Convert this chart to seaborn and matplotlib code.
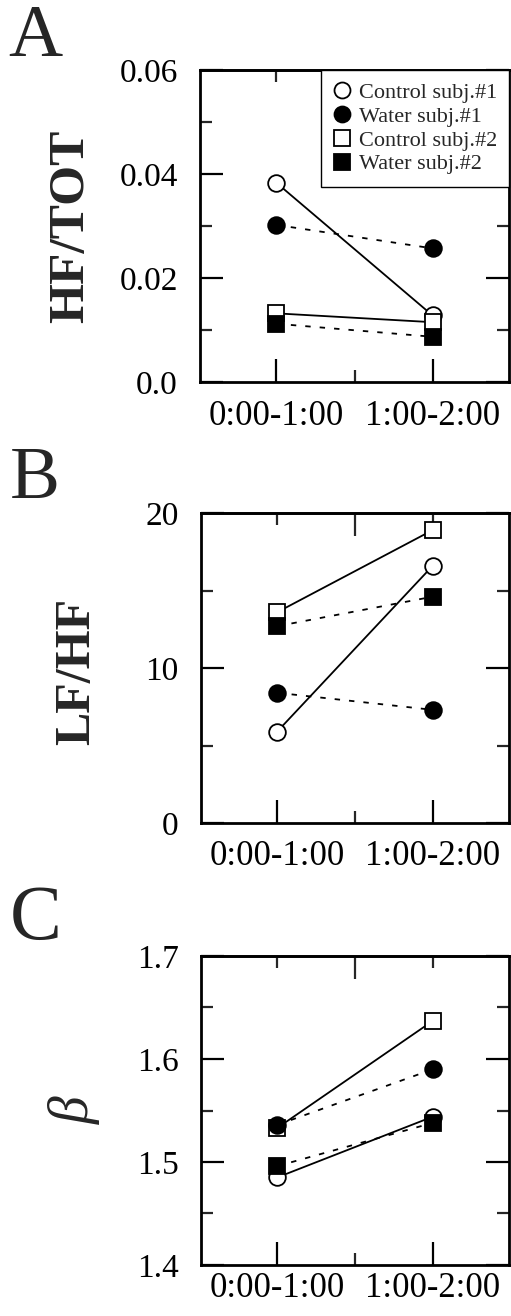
import numpy as np
import pandas as pd
import matplotlib
matplotlib.use("Agg")
import matplotlib.pyplot as plt
from matplotlib.lines import Line2D
from matplotlib.ticker import MultipleLocator, FixedLocator, NullFormatter
import seaborn as sns

# ---------------- data ----------------
periods = ["0:00-1:00", "1:00-2:00"]
series_names = ["Control subj.#1", "Water subj.#1", "Control subj.#2", "Water subj.#2"]

hf_tot_ctrl1 = [0.0383, 0.0128]
hf_tot_water1 = [0.0302, 0.0257]
hf_tot_ctrl2 = [0.0132, 0.0115]
hf_tot_water2 = [0.0112, 0.0087]

lfhf_ctrl1 = [5.9, 16.6]
lfhf_water1 = [8.4, 7.3]
lfhf_ctrl2 = [13.6, 18.9]
lfhf_water2 = [12.7, 14.6]

beta_ctrl1 = [1.485, 1.544]
beta_water1 = [1.536, 1.590]
beta_ctrl2 = [1.533, 1.637]
beta_water2 = [1.496, 1.538]

a_yticks = [0.0, 0.02, 0.04, 0.06]
a_yticklabels = ["0.0", "0.02", "0.04", "0.06"]
b_yticks = [0, 10, 20]
b_yticklabels = ["0", "10", "20"]
c_yticks = [1.4, 1.5, 1.6, 1.7]
c_yticklabels = ["1.4", "1.5", "1.6", "1.7"]

# ---------------- style ----------------
sns.set_theme(style="ticks")
plt.rcParams["font.family"] = ["Liberation Serif", "DejaVu Serif"]
plt.rcParams["axes.linewidth"] = 2.0

fig = plt.figure(figsize=(5.11, 13.16), dpi=100)
W, H = 511.0, 1316.0


def add_axes(left, top, right, bottom):
    return fig.add_axes([left / W, 1 - bottom / H, (right - left) / W, (bottom - top) / H])


axA = add_axes(200, 70, 509, 382)
axB = add_axes(201, 513, 509, 823)
axC = add_axes(201, 956, 509, 1265)

styles = {
    "Control subj.#1": dict(marker="o", mfc="white", ls="-", z=3),
    "Control subj.#2": dict(marker="s", mfc="white", ls="-", z=4),
    "Water subj.#1": dict(marker="o", mfc="black", ls=(0, (3, 5)), z=5),
    "Water subj.#2": dict(marker="s", mfc="black", ls=(0, (3, 5)), z=6),
}


def draw_panel(ax, values, ylim, yticks, yticklabels, yminor, ylabel, label_kw, xpad=12):
    xs = np.arange(len(periods))
    for name in ["Control subj.#1", "Control subj.#2", "Water subj.#1", "Water subj.#2"]:
        st = styles[name]
        df = pd.DataFrame({"x": xs, "y": values[name]})
        sns.lineplot(data=df, x="x", y="y", ax=ax, color="black",
                     marker=st["marker"], markersize=12,
                     markerfacecolor=st["mfc"], markeredgecolor="black",
                     markeredgewidth=1.3, linestyle=st["ls"], linewidth=1.3,
                     zorder=st["z"], legend=False)
    ax.set_xlim(-0.49, 1.49)
    ax.set_ylim(*ylim)
    ax.set_xticks(xs)
    ax.set_xticklabels(periods)
    ax.xaxis.set_minor_locator(FixedLocator([0.5]))
    ax.set_yticks(yticks)
    ax.set_yticklabels(yticklabels)
    ax.yaxis.set_minor_locator(MultipleLocator(yminor))
    ax.tick_params(axis="both", which="major", direction="in", length=16.5, width=1.6,
                   colors="black")
    ax.tick_params(axis="both", which="minor", direction="in", length=8.5, width=1.6)
    ax.tick_params(axis="y", which="both", left=True, right=True, pad=16, labelsize=24)
    ax.tick_params(axis="x", which="both", bottom=True, top=False, pad=xpad, labelsize=25)
    # top axis has ticks inverted (long at middle)
    sec = ax.secondary_xaxis("top")
    sec.set_xticks([0.5])
    sec.xaxis.set_minor_locator(FixedLocator([0.0, 1.0]))
    sec.xaxis.set_major_formatter(NullFormatter())
    sec.tick_params(which="major", direction="in", length=16.5, width=1.6)
    sec.tick_params(which="minor", direction="in", length=8.5, width=1.6)
    sec.spines["top"].set_linewidth(2.0)
    for s in ax.spines.values():
        s.set_linewidth(2.0)
        s.set_color("black")
    ax.set_xlabel("")
    ax.set_ylabel(ylabel, **label_kw)
    ax.yaxis.label.set_va("center")
    ax.grid(False)
    ax.set_facecolor("white")


draw_panel(axA,
           {"Control subj.#1": hf_tot_ctrl1, "Water subj.#1": hf_tot_water1,
            "Control subj.#2": hf_tot_ctrl2, "Water subj.#2": hf_tot_water2},
           (0.0, 0.06), a_yticks, a_yticklabels, 0.01, "HF/TOT",
           dict(fontsize=37, fontweight="bold"), xpad=13)
axA.yaxis.set_label_coords((71 - 200) / 309, 0.5)

draw_panel(axB,
           {"Control subj.#1": lfhf_ctrl1, "Water subj.#1": lfhf_water1,
            "Control subj.#2": lfhf_ctrl2, "Water subj.#2": lfhf_water2},
           (0, 20), b_yticks, b_yticklabels, 5, "LF/HF",
           dict(fontsize=36, fontweight="bold"), xpad=12)
axB.yaxis.set_label_coords((77 - 201) / 308, 0.49)

draw_panel(axC,
           {"Control subj.#1": beta_ctrl1, "Water subj.#1": beta_water1,
            "Control subj.#2": beta_ctrl2, "Water subj.#2": beta_water2},
           (1.4, 1.7), c_yticks, c_yticklabels, 0.05, "β",
           dict(fontsize=40, fontstyle="italic"), xpad=5)
axC.yaxis.set_label_coords((75 - 201) / 308, 0.5)

# legend (order as in reference)
handles = []
for name in series_names:
    st = styles[name]
    handles.append(Line2D([], [], linestyle="none", marker=st["marker"], markersize=11.5,
                          markerfacecolor=st["mfc"], markeredgecolor="black",
                          markeredgewidth=1.3))
leg = axA.legend(handles, series_names, loc="upper right", borderaxespad=0.0,
                 fontsize=16, frameon=True, fancybox=False, framealpha=1,
                 edgecolor="black", handlelength=0.8, handletextpad=0.36,
                 labelspacing=0.15, borderpad=0.55)
leg.get_frame().set_linewidth(1.0)
leg.set_zorder(10)

# panel letters
fig.text(8 / W, 1 - 4 / H, "A", fontsize=54, ha="left", va="top")
fig.text(10 / W, 1 - 447 / H, "B", fontsize=54, ha="left", va="top")
fig.text(10 / W, 1 - 884 / H, "C", fontsize=56, ha="left", va="top")

fig.savefig("out.png", dpi=100, facecolor="white")
